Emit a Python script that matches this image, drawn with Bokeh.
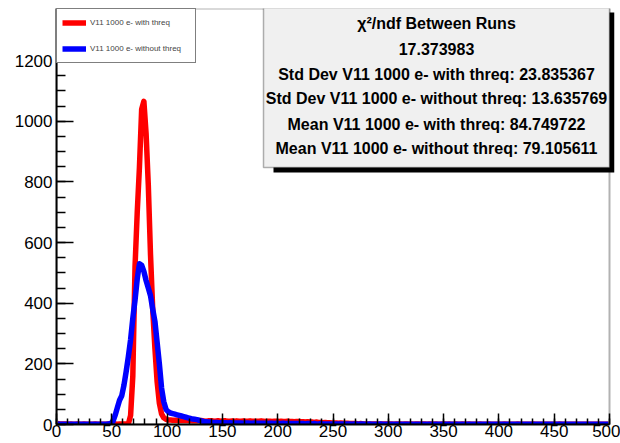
import numpy as np
from bokeh.plotting import figure
from bokeh.models import (Range1d, SingleIntervalTicker, Legend, LegendItem, Label,
                          BoxAnnotation)
from bokeh.embed import file_html
from bokeh.resources import INLINE

# ---- histogram binning -------------------------------------------------------
X_MIN, X_MAX = 0, 500
BIN_WIDTH = 2
Y_MAX = 1372

# counts per 2-unit bin, 0..500 (10 bins per row)
with_threq = [
    3, 2, 2, 2, 2, 1, 2, 1, 1, 2,
    1, 1, 2, 1, 1, 1, 1, 2, 1, 1,
    1, 1, 1, 2, 1, 1, 2, 1, 2, 2,
    2, 2, 2, 30, 160, 520, 700, 850, 1040, 1066,
    960, 790, 560, 380, 250, 140, 70, 35, 22, 17,
    15, 15, 14, 14, 14, 13, 13, 13, 13, 13,
    13, 12, 12, 12, 12, 13, 12, 11, 12, 12,
    12, 11, 12, 12, 11, 12, 12, 11, 11, 12,
    11, 12, 11, 11, 12, 11, 11, 12, 11, 11,
    11, 11, 12, 11, 10, 11, 11, 10, 11, 11,
    10, 11, 10, 10, 11, 10, 10, 9, 10, 10,
    9, 9, 8, 9, 8, 8, 7, 8, 7, 7,
    6, 7, 6, 6, 5, 5, 5, 4, 5, 4,
    4, 4, 3, 3, 3, 3, 2, 3, 2, 2,
    2, 2, 2, 2, 2, 1, 2, 2, 2, 2,
    2, 2, 1, 2, 2, 2, 1, 2, 2, 1,
    2, 1, 2, 2, 1, 2, 2, 1, 2, 2,
    1, 2, 1, 1, 2, 2, 1, 2, 1, 1,
    2, 1, 1, 2, 1, 1, 2, 1, 1, 1,
    1, 2, 1, 1, 1, 2, 1, 1, 1, 1,
    1, 1, 2, 1, 1, 1, 1, 1, 2, 1,
    1, 1, 1, 1, 1, 2, 1, 1, 1, 1,
    1, 1, 1, 1, 1, 1, 1, 2, 1, 1,
    1, 1, 1, 1, 1, 1, 1, 1, 1, 1,
    1, 1, 1, 1, 1, 1, 1, 1, 1, 1,
]

without_threq = [
    2, 1, 1, 1, 1, 1, 1, 1, 1, 1,
    1, 1, 1, 1, 1, 1, 1, 1, 1, 1,
    1, 1, 1, 2, 3, 10, 30, 55, 80, 95,
    130, 175, 225, 280, 350, 410, 480, 530, 525, 505,
    475, 450, 425, 380, 340, 270, 200, 120, 75, 50,
    42, 38, 36, 34, 32, 30, 28, 26, 24, 22,
    20, 18, 17, 16, 14, 12, 10, 9, 8, 8,
    7, 7, 7, 6, 6, 6, 6, 5, 6, 5,
    5, 5, 5, 5, 4, 5, 5, 4, 4, 5,
    4, 4, 4, 4, 4, 3, 4, 4, 3, 4,
    3, 3, 4, 3, 3, 3, 3, 3, 3, 3,
    3, 3, 2, 3, 3, 2, 3, 2, 2, 3,
    2, 2, 2, 2, 2, 2, 2, 2, 2, 2,
    2, 2, 2, 1, 2, 2, 1, 2, 2, 1,
    1, 2, 1, 1, 1, 1, 2, 1, 1, 1,
    1, 1, 1, 1, 1, 1, 1, 1, 1, 1,
    1, 1, 1, 1, 1, 1, 1, 1, 1, 1,
    1, 1, 1, 1, 1, 1, 1, 1, 1, 1,
    1, 1, 1, 1, 1, 1, 1, 1, 1, 1,
    1, 1, 1, 1, 1, 1, 1, 1, 1, 1,
    1, 1, 1, 1, 1, 1, 1, 1, 1, 1,
    1, 1, 1, 1, 1, 1, 1, 1, 1, 1,
    1, 1, 1, 1, 1, 1, 1, 1, 1, 1,
    1, 1, 1, 1, 1, 1, 1, 1, 1, 1,
    1, 1, 1, 1, 1, 1, 1, 1, 1, 1,
]

series_labels = ["V11 1000 e- with threq", "V11 1000 e- without threq"]
series_colors = ["#ff0000", "#0000ff"]

stats_lines = [
    "\u03c7\u00b2/ndf Between Runs",
    "17.373983",
    "Std Dev V11 1000 e- with threq: 23.835367",
    "Std Dev V11 1000 e- without threq: 13.635769",
    "Mean V11 1000 e- with threq: 84.749722",
    "Mean V11 1000 e- without threq: 79.105611",
]

# ---- canvas / frame geometry (pixels) ---------------------------------------
# The axes span 56..609 px; the drawing area runs on to 614 px so the stats
# box shadow can hang past the right-hand frame line.
W, H = 620, 443
AL, AR, FT, FB = 56, 609, 8, 424
FR = 614


def dx(px):
    return X_MIN + (px - AL) / (AR - AL) * (X_MAX - X_MIN)


def dy(py):
    return (FB - py) / (FB - FT) * Y_MAX


FONT = "Liberation Sans"

p = figure(width=W, height=H, output_backend="svg", toolbar_location=None,
           x_range=Range1d(X_MIN, dx(FR)), y_range=Range1d(0, Y_MAX),
           min_border_left=AL, min_border_right=W - FR,
           min_border_top=FT, min_border_bottom=H - FB)
p.grid.visible = False
p.background_fill_color = "white"
p.border_fill_color = "white"
p.outline_line_color = None

# histogram contents drawn through the bin centres
renderers = []
for counts, color in zip([with_threq, without_threq], series_colors):
    centers = X_MIN + BIN_WIDTH * (np.arange(len(counts)) + 0.5)
    r = p.line(centers, counts, line_color=color, line_width=5.5,
               line_join="round")
    renderers.append(r)

# ---- axes --------------------------------------------------------------------
xa = p.xaxis[0]
xa.bounds = (X_MIN, X_MAX)
xa.ticker = SingleIntervalTicker(interval=50, num_minor_ticks=5)
xa.major_tick_in = 11
xa.major_tick_out = 0
xa.minor_tick_in = 6
xa.minor_tick_out = 0
xa.axis_line_width = 2
xa.major_tick_line_width = 1.5
xa.minor_tick_line_width = 1.5
xa.major_label_text_font = FONT
xa.major_label_text_font_size = "17px"
xa.major_label_text_color = "black"
xa.major_label_standoff = 0

ya = p.yaxis[0]
ya.ticker = SingleIntervalTicker(interval=200, num_minor_ticks=4)
ya.major_tick_in = 17
ya.major_tick_out = 0
ya.minor_tick_in = 9
ya.minor_tick_out = 0
ya.axis_line_width = 2
ya.major_tick_line_width = 1.5
ya.minor_tick_line_width = 1.5
ya.major_label_text_font = FONT
ya.major_label_text_font_size = "17px"
ya.major_label_text_color = "black"
ya.major_label_standoff = 4

# frame line around the axis area (0..500 x 0..Y_MAX)
p.add_layout(BoxAnnotation(left=X_MIN, right=X_MAX, top=Y_MAX, bottom=0,
                           fill_color=None, line_color="black", line_width=2))

# ---- legend ------------------------------------------------------------------
legend = Legend(items=[LegendItem(label=lab, renderers=[r])
                       for lab, r in zip(series_labels, renderers)],
                location="top_left", margin=0, padding=5, spacing=9,
                glyph_width=24, glyph_height=17, label_height=17,
                label_width=100, label_standoff=4,
                label_text_font=FONT, label_text_font_size="8px",
                border_line_color="black", border_line_width=1.5,
                background_fill_color="white", background_fill_alpha=1.0)
p.add_layout(legend)

# ---- statistics box with drop shadow ----------------------------------------
p.add_layout(BoxAnnotation(left=dx(273), right=dx(614), top=dy(12), bottom=dy(172),
                           fill_color="black", fill_alpha=1.0, line_color=None))
p.add_layout(BoxAnnotation(left=dx(263), right=dx(609), top=dy(7), bottom=dy(167),
                           fill_color="#f0f0f0", fill_alpha=1.0,
                           line_color="black", line_width=1.5))

line_y = [23, 48, 74, 97.5, 123.5, 147.5]
for txt, py in zip(stats_lines, line_y):
    p.add_layout(Label(x=dx(436), y=dy(py), text=txt, text_align="center",
                       text_baseline="middle", text_font=FONT,
                       text_font_style="bold", text_font_size="16px",
                       text_color="black"))

open("out.html", "w").write(file_html(p, INLINE))
